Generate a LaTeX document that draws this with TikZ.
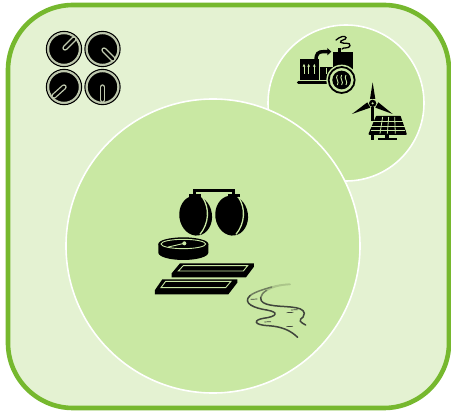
\documentclass[tikz,border=0pt]{standalone}
\usepackage{xcolor}
\usetikzlibrary{arrows.meta,positioning,calc}
\definecolor{PanelEdge}{HTML}{76B82E}
\definecolor{PanelFill}{HTML}{E4F2D2}
\definecolor{ZoneFill}{HTML}{C9E8A3}
\definecolor{KnobRim}{HTML}{BFC9AE}
\definecolor{RiverDark}{HTML}{40453C}

\begin{document}
\begin{tikzpicture}[
  x=1pt,y=-1pt,
  panel/.style={draw=PanelEdge,line width=4.6pt,fill=PanelFill,rounded corners=65pt},
  zone/.style={draw=white,line width=1.6pt,fill=ZoneFill},
  knob/.style={fill=black,draw=KnobRim,line width=2pt},
  pointer/.style={line cap=round},
  icon/.style={fill=black,draw=black},
  cutline/.style={draw=ZoneFill,line width=.9pt},
  river/.style={draw=RiverDark,line width=1.5pt,line cap=round}
]
  \useasboundingbox (0,0) rectangle (451,412);
  \fill[white] (0,0) rectangle (451,412);
  \draw[panel] (8,5) rectangle (449,408);

  % zones
  \draw[zone] (346,103) circle [radius=78];
  \draw[zone] (213,246) circle [radius=147];

  % knobs
  \foreach \kx/\ky/\tx/\ty/\ux/\uy in {64/49/74/39/65/48, 102.5/49/113/59/104/50,
      64/87/54/96/64/87, 102.5/87/102.5/100/102.5/87} {
    \draw[knob] (\kx,\ky) circle [radius=15.8];
    \draw[black,line width=1.1pt] (\kx,\ky) circle [radius=17.6];
    \draw[pointer,KnobRim,line width=5.4pt] (\ux,\uy) -- (\tx,\ty);
    \draw[pointer,black,line width=2.8pt] (\ux,\uy) -- (\tx,\ty);
  }

  % power plant, turbine and solar panel
  \begin{scope}[shift={(280,25)},x=.3333pt,y=-.3333pt]
    \draw[black,line width=2.8pt,line cap=round] (55,172) -- (170,172);
    \fill (60,103) rectangle (118,165);
    \fill (121,125) rectangle (160,165);
    \fill (160,82) rectangle (218,142);
    \draw[black,line width=3.4pt] (108,107) .. controls (108,85) and (115,80) .. (130,80) -- (145,80);
    \fill (142,69) -- (154,80) -- (142,91) -- cycle;
    \draw[black,line width=2.6pt] (178,84) -- (178,70);
    \foreach \ax in {72,86,103}
      \draw[ZoneFill,line width=.8pt,-{Latex[length=3pt,width=3pt]}] (\ax,146) -- (\ax,116);
    \draw[ZoneFill,line width=.8pt] (138,128) -- (138,146);
    \fill[ZoneFill] (185,165) circle [radius=46];
    \draw[black,line width=1.8pt] (185,165) circle [radius=39];
    \fill (185,165) circle [radius=28];
    \foreach \ax in {172,185,198}
      \draw[ZoneFill,line width=.9pt] (\ax,150) .. controls (\ax-8,160) and (\ax+8,170) .. (\ax,180);
    \draw[black,line width=1.3pt,line cap=round] (168,45) .. controls (180,35) and (195,30) .. (198,38)
      .. controls (200,45) and (178,45) .. (182,52) .. controls (190,58) and (212,50) .. (210,62)
      .. controls (208,72) and (190,66) .. (186,72);
    % turbine
    \fill (278,172) -- (286,222) -- (270,222) -- cycle;
    \fill (216,267) -- (262,232) -- (271,248) -- cycle;
    \fill (338,267) -- (286,248) -- (295,232) -- cycle;
    \fill (273,245) rectangle (283,290);
    \fill (278,235) circle [radius=11];
    \fill[ZoneFill] (278,235) circle [radius=3.5];
    \fill (273,325) rectangle (283,346);
    % panel
    \draw[icon,line width=1.6pt,line join=round] (290,275) -- (360,275) -- (378,327) -- (268,327) -- cycle;
    \foreach \py in {289,303,316}
      \draw[ZoneFill,line width=.8pt] (272,\py) -- (374,\py);
    \foreach \pa/\pb in {308/300,326/322,344/346}
      \draw[ZoneFill,line width=.8pt] (\pa,276) -- (\pb,326);
    \fill (316,327) rectangle (327,342);
    \fill (295,338) rectangle (352,346);
  \end{scope}

  % balloons, dish and plates
  \begin{scope}[shift={(145,175)},x=.3333pt,y=-.3333pt]
    \draw[black,line width=3pt] (149,62) -- (149,46) -- (267,46) -- (267,62);
    \fill (133,57) rectangle (168,66);
    \fill (248,57) rectangle (284,66);
    \fill[rotate around={8:(152,122)}] (152,122) ellipse [x radius=49,y radius=60];
    \fill[rotate around={8:(260,122)}] (260,122) ellipse [x radius=49,y radius=60];
    \draw[draw=ZoneFill,line width=1.3pt] (172,66) .. controls (195,100) and (192,145) .. (165,178);
    \draw[draw=ZoneFill,line width=1.3pt] (280,66) .. controls (303,100) and (300,145) .. (273,178);
    % dish
    \fill (40,207) -- (40,233) arc [start angle=180,end angle=0,x radius=75,y radius=22] -- (190,207) -- cycle;
    \fill (115,207) ellipse [x radius=75,y radius=20];
    \draw[cutline] (115,207) ellipse [x radius=67,y radius=14];
    \draw[ZoneFill,line width=.9pt] (70,216) -- (118,205);
    \fill[ZoneFill] (118,205) circle [radius=6];
    % plates
    \fill (105,265) -- (327,265) -- (327,275) -- (303,307) -- (80,307) -- (80,295) -- cycle;
    \draw[cutline] (115,272) -- (308,272) -- (295,288) -- (100,288) -- cycle;
    \fill (52,313) -- (277,313) -- (277,323) -- (250,358) -- (30,358) -- (30,345) -- cycle;
    \draw[cutline] (62,319) -- (258,319) -- (242,338) -- (48,338) -- cycle;
  \end{scope}

  % river
  \begin{scope}[shift={(235,275)},x=.3333pt,y=-.3333pt]
    \draw[river,black!15!ZoneFill] (165,28) .. controls (140,28) and (125,32) .. (110,36);
    \draw[river,black!15!ZoneFill] (165,28) .. controls (130,30) and (110,38) .. (95,46);
    \draw[river,RiverDark!65!ZoneFill] (110,36) .. controls (90,42) and (60,50) .. (45,62);
    \draw[river,RiverDark!65!ZoneFill] (95,46) .. controls (85,52) and (78,60) .. (77,68);
    \draw[river] (45,62) .. controls (20,85) and (60,100) .. (95,105)
      .. controls (135,112) and (125,125) .. (85,130) .. controls (55,135) and (55,150) .. (100,152)
      .. controls (140,155) and (165,165) .. (188,187);
    \draw[river] (77,68) .. controls (76,82) and (90,87) .. (105,90)
      .. controls (140,98) and (205,90) .. (208,115) .. controls (210,135) and (175,130) .. (212,150);
    \foreach \rx/\ry in {57/73,178/105,165/113,98/141,164/155}
      \draw[RiverDark,line width=.7pt] (\rx-10,\ry) -- (\rx+10,\ry-1);
  \end{scope}
\end{tikzpicture}
\end{document}
